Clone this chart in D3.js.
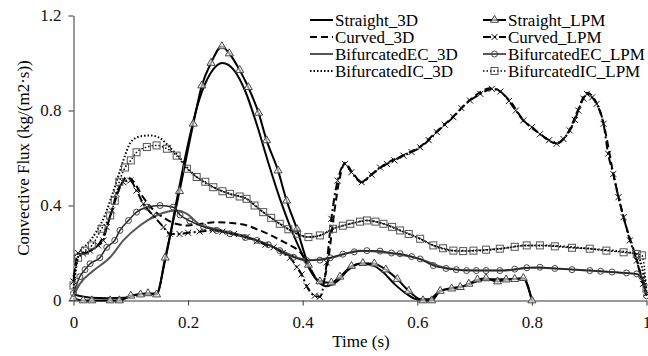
<!DOCTYPE html>
<html>
<head>
<meta charset="utf-8">
<script src="https://cdn.jsdelivr.net/npm/d3@7"></script>
<style>
  body { margin: 0; background: #fff; }
  svg { display: block; font-family: "Liberation Serif", "Times New Roman", serif; }
</style>
</head>
<body>
<figure id="flux" style="margin:0"></figure>
<script>
// [time (s), convective flux]
const straight3D = [[0,0.025],[0.03,0.012],[0.06,0.01],[0.09,0.012],[0.11,0.025],[0.13,0.03],[0.145,0.03],[0.16,0.17],[0.18,0.42],[0.2,0.66],[0.22,0.85],[0.24,0.96],[0.26,1.0],[0.28,0.97],[0.3,0.88],[0.32,0.74],[0.34,0.58],[0.36,0.43],[0.38,0.3],[0.4,0.19],[0.42,0.1],[0.44,0.06],[0.46,0.08],[0.48,0.13],[0.5,0.155],[0.52,0.15],[0.54,0.12],[0.56,0.07],[0.58,0.03],[0.6,0.005],[0.62,0.005],[0.64,0.04],[0.68,0.06],[0.72,0.09],[0.76,0.09],[0.785,0.093],[0.8,0]];

const curved3D = [[0,0.1],[0.01,0.19],[0.03,0.21],[0.05,0.26],[0.065,0.36],[0.08,0.47],[0.093,0.52],[0.105,0.5],[0.12,0.44],[0.14,0.38],[0.16,0.345],[0.18,0.322],[0.2,0.316],[0.22,0.322],[0.25,0.33],[0.28,0.325],[0.3,0.318],[0.32,0.3],[0.34,0.28],[0.36,0.255],[0.38,0.23],[0.395,0.205],[0.41,0.15],[0.425,0.09],[0.435,0.08],[0.445,0.18],[0.455,0.37],[0.465,0.52],[0.474,0.58],[0.485,0.545],[0.503,0.5],[0.52,0.53],[0.547,0.578],[0.576,0.612],[0.605,0.648],[0.634,0.712],[0.663,0.775],[0.692,0.845],[0.73,0.895],[0.76,0.845],[0.785,0.76],[0.814,0.702],[0.843,0.662],[0.866,0.72],[0.881,0.805],[0.896,0.875],[0.913,0.83],[0.925,0.745],[0.942,0.535],[0.96,0.35],[0.983,0.17],[1.0,0.02]];

const bifEC3D = [[0,0.02],[0.011,0.07],[0.035,0.126],[0.064,0.182],[0.087,0.253],[0.116,0.316],[0.145,0.358],[0.165,0.375],[0.18,0.379],[0.198,0.365],[0.22,0.32],[0.25,0.3],[0.3,0.27],[0.35,0.225],[0.38,0.19],[0.41,0.17],[0.45,0.18],[0.5,0.21],[0.55,0.2],[0.6,0.178],[0.65,0.137],[0.7,0.126],[0.75,0.126],[0.8,0.138],[0.85,0.134],[0.9,0.126],[0.95,0.118],[0.985,0.11],[1,0.03]];

const bifIC3D = [[0,0.05],[0.01,0.2],[0.025,0.24],[0.04,0.29],[0.055,0.36],[0.064,0.42],[0.075,0.5],[0.087,0.59],[0.1,0.667],[0.115,0.69],[0.133,0.695],[0.15,0.685],[0.17,0.64],[0.186,0.6],[0.2,0.555],[0.215,0.52],[0.244,0.477],[0.273,0.449],[0.302,0.428],[0.331,0.372],[0.36,0.323],[0.39,0.281],[0.41,0.267],[0.43,0.274],[0.453,0.302],[0.483,0.323],[0.512,0.337],[0.541,0.323],[0.57,0.295],[0.605,0.26],[0.628,0.232],[0.663,0.21],[0.698,0.21],[0.744,0.218],[0.791,0.232],[0.814,0.232],[0.901,0.218],[0.983,0.196],[1,0.04]];

const straightLPM = [[0,0.01],[0.017,0.0],[0.032,0.0],[0.064,0.0],[0.08,0.0],[0.1,0.02],[0.117,0.025],[0.13,0.03],[0.145,0.025],[0.16,0.18],[0.185,0.46],[0.209,0.744],[0.224,0.905],[0.24,1.0],[0.259,1.07],[0.272,1.04],[0.29,0.97],[0.305,0.898],[0.323,0.79],[0.337,0.674],[0.357,0.547],[0.372,0.42],[0.39,0.3],[0.41,0.15],[0.43,0.08],[0.45,0.075],[0.465,0.1],[0.485,0.145],[0.505,0.157],[0.525,0.155],[0.545,0.13],[0.565,0.09],[0.585,0.04],[0.61,0.0],[0.625,0.0],[0.64,0.04],[0.66,0.05],[0.675,0.056],[0.69,0.07],[0.705,0.088],[0.72,0.093],[0.74,0.08],[0.755,0.088],[0.77,0.09],[0.785,0.094],[0.8,0.0]];

const curvedLPM = [[0,0.08],[0.008,0.2],[0.017,0.197],[0.029,0.21],[0.043,0.232],[0.052,0.253],[0.058,0.309],[0.067,0.379],[0.075,0.449],[0.087,0.498],[0.099,0.505],[0.11,0.463],[0.122,0.407],[0.139,0.358],[0.157,0.309],[0.168,0.281],[0.185,0.28],[0.2,0.285],[0.22,0.29],[0.243,0.295],[0.26,0.29],[0.28,0.28],[0.302,0.267],[0.32,0.25],[0.335,0.235],[0.349,0.224],[0.365,0.2],[0.378,0.18],[0.39,0.14],[0.398,0.11],[0.407,0.06],[0.421,0.02],[0.43,0.016],[0.442,0.16],[0.45,0.344],[0.461,0.505],[0.474,0.575],[0.485,0.54],[0.503,0.498],[0.52,0.53],[0.535,0.56],[0.547,0.575],[0.56,0.59],[0.576,0.61],[0.59,0.625],[0.605,0.645],[0.62,0.675],[0.634,0.709],[0.648,0.74],[0.663,0.772],[0.677,0.81],[0.692,0.842],[0.71,0.87],[0.73,0.891],[0.745,0.88],[0.76,0.84],[0.772,0.8],[0.785,0.758],[0.8,0.73],[0.814,0.70],[0.83,0.675],[0.843,0.66],[0.855,0.68],[0.866,0.716],[0.875,0.76],[0.881,0.8],[0.89,0.85],[0.896,0.87],[0.905,0.855],[0.913,0.828],[0.925,0.744],[0.933,0.618],[0.942,0.533],[0.951,0.435],[0.96,0.351],[0.971,0.253],[0.983,0.168],[0.994,0.07],[1.0,0.03]];

const bifECLPM = [[0,0.03],[0.011,0.1],[0.02,0.13],[0.029,0.155],[0.046,0.18],[0.058,0.224],[0.072,0.253],[0.081,0.295],[0.096,0.337],[0.11,0.372],[0.128,0.393],[0.151,0.4],[0.174,0.393],[0.186,0.36],[0.203,0.335],[0.227,0.31],[0.25,0.295],[0.273,0.281],[0.3,0.265],[0.32,0.253],[0.34,0.235],[0.36,0.21],[0.384,0.182],[0.407,0.168],[0.43,0.17],[0.448,0.18],[0.47,0.195],[0.49,0.205],[0.512,0.21],[0.535,0.208],[0.555,0.2],[0.57,0.197],[0.59,0.185],[0.605,0.175],[0.628,0.147],[0.65,0.135],[0.668,0.13],[0.686,0.126],[0.703,0.126],[0.72,0.126],[0.744,0.126],[0.77,0.132],[0.791,0.138],[0.814,0.14],[0.84,0.135],[0.87,0.13],[0.901,0.126],[0.92,0.123],[0.94,0.12],[0.965,0.116],[0.983,0.112],[0.992,0.1],[1.0,0.02]];

const bifICLPM = [[0,0.063],[0.008,0.18],[0.02,0.21],[0.032,0.232],[0.049,0.302],[0.064,0.358],[0.072,0.42],[0.08,0.5],[0.09,0.56],[0.1,0.59],[0.11,0.624],[0.128,0.646],[0.145,0.653],[0.163,0.639],[0.18,0.61],[0.198,0.555],[0.215,0.52],[0.23,0.5],[0.244,0.477],[0.26,0.46],[0.273,0.449],[0.29,0.438],[0.302,0.428],[0.316,0.4],[0.331,0.372],[0.345,0.348],[0.36,0.323],[0.375,0.3],[0.39,0.281],[0.41,0.267],[0.43,0.274],[0.453,0.302],[0.47,0.315],[0.483,0.323],[0.5,0.332],[0.512,0.337],[0.527,0.332],[0.541,0.323],[0.556,0.31],[0.57,0.295],[0.585,0.28],[0.605,0.26],[0.628,0.232],[0.645,0.22],[0.663,0.21],[0.68,0.208],[0.698,0.21],[0.72,0.214],[0.744,0.218],[0.77,0.226],[0.791,0.232],[0.814,0.232],[0.84,0.228],[0.87,0.222],[0.901,0.218],[0.93,0.21],[0.96,0.203],[0.983,0.196],[0.992,0.19],[1,0.05]];

const xTicks = [0, 0.2, 0.4, 0.6, 0.8, 1];
const yTicks = [0, 0.4, 0.8, 1.2];

const series = [
  { name: "Straight_3D", data: straight3D, stroke: "#000", width: 2, dash: null, marker: null, col: 0 },
  { name: "Curved_3D", data: curved3D, stroke: "#000", width: 2, dash: "7,4", marker: null, col: 0 },
  { name: "BifurcatedEC_3D", data: bifEC3D, stroke: "#555", width: 2, dash: null, marker: null, col: 0 },
  { name: "BifurcatedIC_3D", data: bifIC3D, stroke: "#000", width: 2, dash: "1.5,2", marker: null, col: 0 },
  { name: "Straight_LPM", data: straightLPM, stroke: "#000", width: 2, dash: null, marker: "triangle", col: 1 },
  { name: "Curved_LPM", data: curvedLPM, stroke: "#000", width: 2, dash: "8,3,2,3", marker: "x", col: 1 },
  { name: "BifurcatedEC_LPM", data: bifECLPM, stroke: "#222", width: 1.5, dash: null, marker: "circle", col: 1 },
  { name: "BifurcatedIC_LPM", data: bifICLPM, stroke: "#000", width: 1.5, dash: "1.5,2", marker: "square", col: 1 }
];

const W = 648, H = 356;
const svg = d3.select("figure#flux").append("svg")
  .attr("width", W)
  .attr("height", H);

const x = d3.scaleLinear().domain([0, 1]).range([73.5, 646.5]);
const y = d3.scaleLinear().domain([0, 1.2]).range([300.5, 15.5]);

// axes
const xAxis = svg.append("g")
  .attr("transform", "translate(0," + y(0) + ")")
  .call(d3.axisBottom(x).tickValues(xTicks).tickSize(5).tickSizeOuter(0).tickPadding(10)
    .tickFormat(d => d3.format("")(d)));
const yAxis = svg.append("g")
  .attr("transform", "translate(" + x(0) + ",0)")
  .call(d3.axisLeft(y).tickValues(yTicks).tickSize(5).tickSizeOuter(0).tickPadding(7)
    .tickFormat(d => d3.format("")(d)));
svg.selectAll(".tick text").attr("font-size", 17).attr("font-family", "Liberation Serif").attr("fill", "#111");
svg.selectAll(".domain, .tick line").attr("stroke", "#333");

// axis titles
svg.append("text")
  .attr("x", 361).attr("y", 347)
  .attr("text-anchor", "middle")
  .attr("font-size", 17)
  .text("Time (s)");
svg.append("text")
  .attr("transform", "translate(29," + ((y(0) + y(1.2)) / 2) + ")rotate(-90)")
  .attr("text-anchor", "middle")
  .attr("font-size", 17)
  .text("Convective Flux (kg/(m2·s))");

const line = d3.line().x(d => x(d[0])).y(d => y(d[1])).curve(d3.curveMonotoneX);

function drawMarker(g, type, cx, cy) {
  if (type === "circle") {
    g.append("circle").attr("cx", cx).attr("cy", cy).attr("r", 3)
      .attr("fill", "none").attr("stroke", "#444").attr("stroke-width", 1);
  } else if (type === "square") {
    g.append("rect").attr("x", cx - 3.5).attr("y", cy - 3.5).attr("width", 7).attr("height", 7)
      .attr("fill", "none").attr("stroke", "#555").attr("stroke-width", 1);
  } else if (type === "triangle") {
    g.append("path").attr("transform", "translate(" + cx + "," + cy + ")")
      .attr("d", d3.symbol(d3.symbolTriangle, 28)())
      .attr("fill", "#fff").attr("fill-opacity", 0.6).attr("stroke", "#444").attr("stroke-width", 1);
  } else if (type === "x") {
    g.append("path").attr("transform", "translate(" + cx + "," + cy + ")")
      .attr("d", "M-3,-3L3,3M-3,3L3,-3")
      .attr("fill", "none").attr("stroke", "#111").attr("stroke-width", 1);
  }
}

// lines
const plot = svg.append("g");
series.forEach(s => {
  plot.append("path")
    .datum(s.data)
    .attr("d", line)
    .attr("fill", "none")
    .attr("stroke", s.stroke)
    .attr("stroke-width", s.width)
    .attr("stroke-dasharray", s.dash);
  if (s.marker) {
    const mg = plot.append("g");
    s.data.forEach(d => drawMarker(mg, s.marker, x(d[0]), y(d[1])));
  }
});

// legend
const legX = [310, 483], legY = 20, legStep = 17;
series.forEach((s, i) => {
  const row = i % 4;
  const lx = legX[s.col], ly = legY + row * legStep;
  const g = svg.append("g");
  g.append("line")
    .attr("x1", lx).attr("x2", lx + 23).attr("y1", ly).attr("y2", ly)
    .attr("stroke", s.stroke).attr("stroke-width", s.width)
    .attr("stroke-dasharray", s.dash);
  if (s.marker) drawMarker(g, s.marker, lx + 11.5, ly);
  g.append("text")
    .attr("x", lx + 25).attr("y", ly + 6)
    .attr("font-size", 17)
    .text(s.name);
});
</script>
</body>
</html>
